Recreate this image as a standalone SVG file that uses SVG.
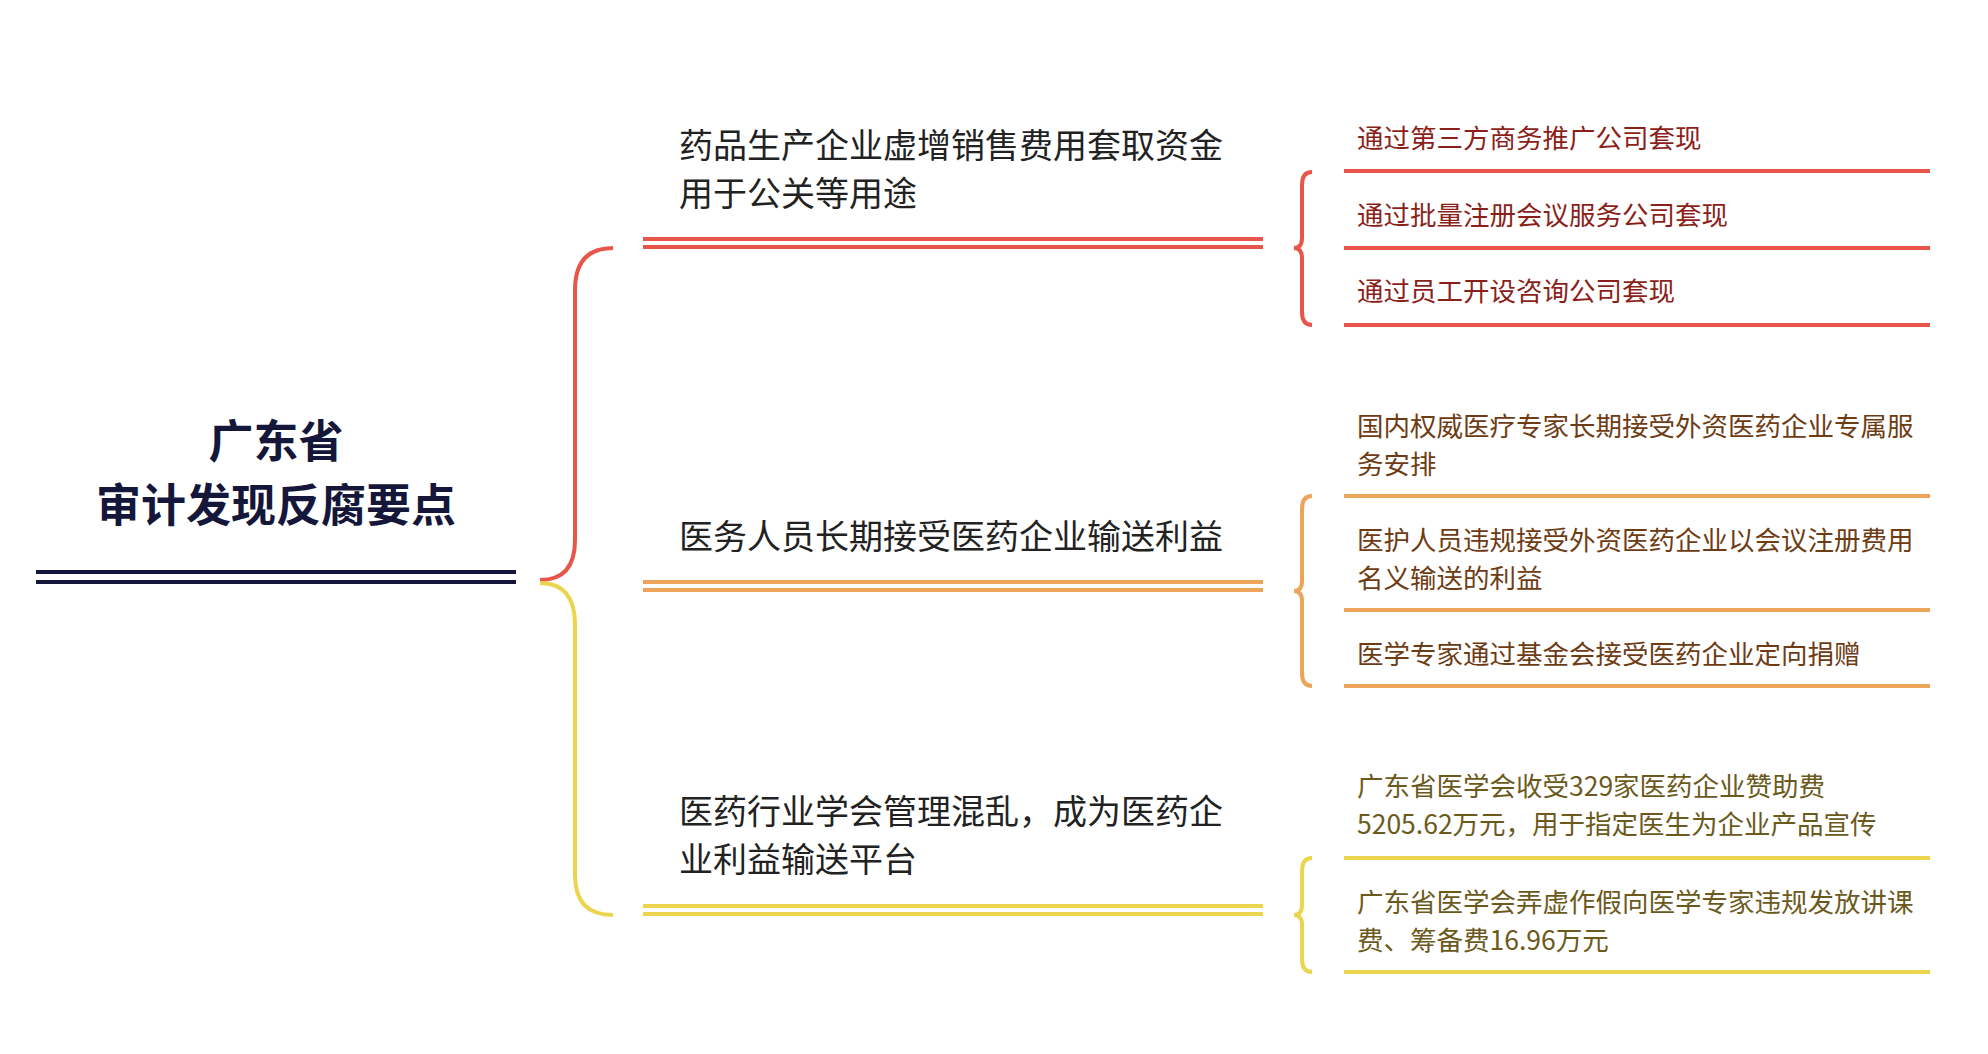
<svg xmlns="http://www.w3.org/2000/svg" width="1988" height="1054" viewBox="0 0 1988 1054">
<style>
text{font-family:"Noto Sans CJK SC","Noto Sans",sans-serif}
.root{font-size:45px;font-weight:bold;fill:#15173a}
.br{font-size:34px;fill:#222}
.lf{font-size:26.5px}
.r{stroke:#e8554a}.o{stroke:#eca35a}.y{stroke:#ecd54e}
line,path{fill:none;stroke-width:4}
</style>
<rect width="1988" height="1054" fill="#fff"/>
<g id="root">
<text class="root" x="276" y="458" text-anchor="middle">广东省</text>
<text class="root" x="276" y="522" text-anchor="middle">审计发现反腐要点</text>
<line x1="36" y1="572" x2="516" y2="572" stroke="#15173a" stroke-width="5"/>
<line x1="36" y1="582" x2="516" y2="582" stroke="#15173a" stroke-width="5"/>
</g>
<g id="connectors">
<path class="r" d="M613 248 Q575 248 575 290 L575 540 Q575 580 540 580"/>
<path class="y" d="M540 583 Q575 583 575 625 L575 875 Q575 915 613 915"/>
<path class="r" d="M1312 172 Q1302 172 1302 185 L1302 238 Q1302 248 1294 248 Q1302 248 1302 258 L1302 312 Q1302 325 1312 325"/>
<path class="o" d="M1312 496 Q1302 496 1302 509 L1302 581 Q1302 591 1294 591 Q1302 591 1302 601 L1302 673 Q1302 686 1312 686"/>
<path class="y" d="M1312 858 Q1302 858 1302 871 L1302 905 Q1302 915 1294 915 Q1302 915 1302 925 L1302 959 Q1302 972 1312 972"/>
</g>
<g id="b1">
<text class="br" x="679" y="158">药品生产企业虚增销售费用套取资金</text>
<text class="br" x="679" y="206">用于公关等用途</text>
<line class="r" x1="643" y1="239" x2="1263" y2="239"/><line class="r" x1="643" y1="247" x2="1263" y2="247"/>
</g>
<g id="b2">
<text class="br" x="679" y="549">医务人员长期接受医药企业输送利益</text>
<line class="o" x1="643" y1="582" x2="1263" y2="582"/><line class="o" x1="643" y1="590" x2="1263" y2="590"/>
</g>
<g id="b3">
<text class="br" x="679" y="824">医药行业学会管理混乱，成为医药企</text>
<text class="br" x="679" y="872">业利益输送平台</text>
<line class="y" x1="643" y1="906" x2="1263" y2="906"/><line class="y" x1="643" y1="914" x2="1263" y2="914"/>
</g>
<g id="l1" fill="#8b1f1a"><text class="lf" x="1357" y="148">通过第三方商务推广公司套现</text><line class="r" x1="1344" y1="171" x2="1930" y2="171"/></g>
<g id="l2" fill="#8b1f1a"><text class="lf" x="1357" y="225">通过批量注册会议服务公司套现</text><line class="r" x1="1344" y1="248" x2="1930" y2="248"/></g>
<g id="l3" fill="#8b1f1a"><text class="lf" x="1357" y="301">通过员工开设咨询公司套现</text><line class="r" x1="1344" y1="325" x2="1930" y2="325"/></g>
<g id="l4" fill="#6e3c14"><text class="lf" x="1357" y="436">国内权威医疗专家长期接受外资医药企业专属服</text><text class="lf" x="1357" y="474">务安排</text><line class="o" x1="1344" y1="496" x2="1930" y2="496"/></g>
<g id="l5" fill="#6e3c14"><text class="lf" x="1357" y="550">医护人员违规接受外资医药企业以会议注册费用</text><text class="lf" x="1357" y="588">名义输送的利益</text><line class="o" x1="1344" y1="610" x2="1930" y2="610"/></g>
<g id="l6" fill="#6e3c14"><text class="lf" x="1357" y="664">医学专家通过基金会接受医药企业定向捐赠</text><line class="o" x1="1344" y1="686" x2="1930" y2="686"/></g>
<g id="l7" fill="#6b5a1c"><text class="lf" x="1357" y="796">广东省医学会收受329家医药企业赞助费</text><text class="lf" x="1357" y="834">5205.62万元，用于指定医生为企业产品宣传</text><line class="y" x1="1344" y1="858" x2="1930" y2="858"/></g>
<g id="l8" fill="#6b5a1c"><text class="lf" x="1357" y="912">广东省医学会弄虚作假向医学专家违规发放讲课</text><text class="lf" x="1357" y="950">费、筹备费16.96万元</text><line class="y" x1="1344" y1="972" x2="1930" y2="972"/></g>
</svg>
